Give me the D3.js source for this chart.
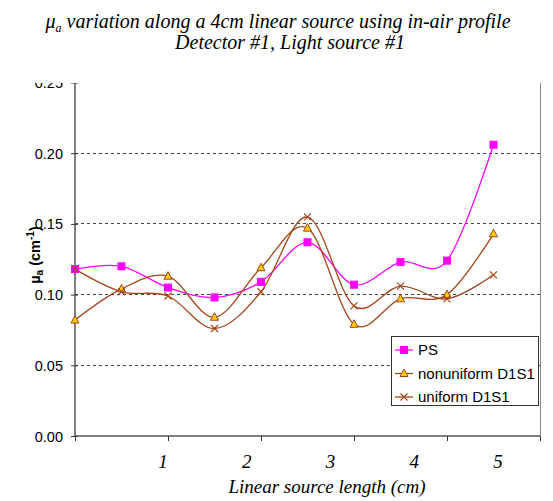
<!DOCTYPE html>
<html>
<head>
<meta charset="utf-8">
<script src="https://cdn.jsdelivr.net/npm/d3@7"></script>
<style>
  html, body { margin: 0; padding: 0; background: #fff; }
  svg { display: block; }
</style>
</head>
<body>
<script>
// Sample positions along the source (10 measurement points)
const positions = [0, 1, 2, 3, 4, 5, 6, 7, 8, 9];
const xTickPositions = [0, 2, 4, 6, 8, 10];
const xLabels = [1, 2, 3, 4, 5];
const yTicks = [0, 0.05, 0.10, 0.15, 0.20, 0.25];
const gridTicks = [0.05, 0.10, 0.15, 0.20];

const seriesNames = ["PS", "nonuniform D1S1", "uniform D1S1"];
const psValues = [0.118, 0.120, 0.105, 0.098, 0.109, 0.137, 0.107, 0.123, 0.124, 0.206];
const nonuniformValues = [0.082, 0.104, 0.113, 0.084, 0.119, 0.147, 0.079, 0.097, 0.100, 0.143];
const uniformValues = [0.118, 0.102, 0.099, 0.076, 0.102, 0.155, 0.092, 0.106, 0.097, 0.114];

const W = 553, H = 501;
const plot = { left: 75, right: 540, top: 83, bottom: 436 };

const x = d3.scaleLinear().domain([0, 10]).range([plot.left, plot.right]);
const y = d3.scaleLinear().domain([0, 0.25]).range([plot.bottom, plot.bottom - 0.25 * 1414]);
// Axis caption numbers sit on their own spacing below the category ticks
const xl = d3.scaleLinear().domain([1, 5]).range([163, 498]);

const svg = d3.select("body").append("svg").attr("width", W).attr("height", H);

const sans = "Arial, 'Liberation Sans', sans-serif";
const serif = "'Times New Roman', 'Liberation Serif', 'DejaVu Serif', serif";
const brown = "#A4461B";
const styles = [
  { name: seriesNames[0], values: psValues, color: "#FF00FF", marker: "square" },
  { name: seriesNames[1], values: nonuniformValues, color: brown, marker: "triangle" },
  { name: seriesNames[2], values: uniformValues, color: brown, marker: "cross" }
];

// Gridlines
svg.append("g").selectAll("line").data(gridTicks).join("line")
  .attr("x1", plot.left).attr("x2", plot.right)
  .attr("y1", d => y(d)).attr("y2", d => y(d))
  .attr("stroke", "#444").attr("stroke-width", 1).attr("stroke-dasharray", "3,3")
  .attr("shape-rendering", "crispEdges");

// Right frame edge
svg.append("line").attr("x1", plot.right).attr("x2", plot.right)
  .attr("y1", 60).attr("y2", plot.bottom)
  .attr("stroke", "#888").attr("stroke-width", 1).attr("shape-rendering", "crispEdges");

// Y axis
const yAxis = d3.axisLeft(y).tickValues(yTicks).tickFormat(d3.format(".2f")).tickSize(0);
const gy = svg.append("g").attr("transform", `translate(${plot.left},0)`).call(yAxis);
gy.select(".domain").attr("stroke", "#555").attr("stroke-width", 1.5).attr("d", `M0,${plot.bottom}V40`);
gy.selectAll(".tick text").attr("x", -12).attr("dy", "0.35em")
  .style("font-family", sans).style("font-size", "14.5px").attr("fill", "#000");
gy.selectAll(".tick").append("line").attr("x1", -4).attr("x2", 3).attr("stroke", "#333");

// X axis
const xAxis = d3.axisBottom(x).tickValues(xTickPositions).tickFormat("").tickSize(5);
const gx = svg.append("g").attr("transform", `translate(0,${plot.bottom})`).call(xAxis);
gx.select(".domain").attr("stroke", "#555").attr("stroke-width", 1.5).attr("d", `M${plot.left},0H${plot.right}`);
gx.selectAll(".tick line").attr("stroke", "#333");

svg.append("g").selectAll("text").data(xLabels).join("text")
  .attr("x", d => xl(d)).attr("y", 468).attr("text-anchor", "middle")
  .style("font-family", serif).style("font-style", "italic")
  .style("font-size", "19px").text(d => d);

// Series lines
const line = d3.line().x((d, i) => x(positions[i])).y(d => y(d)).curve(d3.curveCatmullRom.alpha(0));

function drawMarker(g, type, color, cx, cy) {
  if (type === "square") {
    g.append("rect").attr("x", cx - 3.5).attr("y", cy - 3.5).attr("width", 7).attr("height", 7)
      .attr("fill", "#FF00FF").attr("stroke", "#FF00FF");
  } else if (type === "triangle") {
    g.append("path").attr("d", `M${cx},${cy - 4.5}L${cx + 4},${cy + 3}L${cx - 4},${cy + 3}Z`)
      .attr("fill", "#FFCC00").attr("stroke", color).attr("stroke-width", 1);
  } else {
    g.append("path").attr("d", `M${cx - 3.5},${cy - 3.5}L${cx + 3.5},${cy + 3.5}M${cx - 3.5},${cy + 3.5}L${cx + 3.5},${cy - 3.5}`)
      .attr("stroke", color).attr("stroke-width", 1.2);
  }
}

styles.forEach(s => {
  svg.append("path").datum(s.values).attr("d", line)
    .attr("fill", "none").attr("stroke", s.color).attr("stroke-width", 1.3);
});
styles.forEach(s => {
  const g = svg.append("g");
  s.values.forEach((v, i) => drawMarker(g, s.marker, s.color, x(positions[i]), y(v)));
});

// Top of the chart area is trimmed
svg.append("rect").attr("x", 0).attr("y", 0).attr("width", W).attr("height", plot.top).attr("fill", "#fff");

// Y axis title
const yt = svg.append("text")
  .attr("transform", `translate(40,255) rotate(-90)`).attr("text-anchor", "middle")
  .style("font-family", sans).style("font-weight", "bold").style("font-size", "14.5px");
yt.append("tspan").text("\u00B5");
yt.append("tspan").attr("dy", 3).style("font-size", "10px").text("a");
yt.append("tspan").attr("dy", -3).text(" (cm");
yt.append("tspan").attr("dy", -6).style("font-size", "10px").text("-1");
yt.append("tspan").attr("dy", 6).text(")");

// Title
const t1 = svg.append("text").attr("x", 278).attr("y", 28).attr("text-anchor", "middle")
  .style("font-family", serif).style("font-style", "italic").style("font-size", "20px");
t1.append("tspan").text("\u03BC");
t1.append("tspan").attr("dy", 4).style("font-size", "12px").text("a");
t1.append("tspan").attr("dy", -4).text(" variation along a 4cm linear source using in-air profile");
svg.append("text").attr("x", 290).attr("y", 49).attr("text-anchor", "middle")
  .style("font-family", serif).style("font-style", "italic").style("font-size", "20px")
  .text("Detector #1, Light source #1");

// X axis title
svg.append("text").attr("x", 327).attr("y", 493).attr("text-anchor", "middle")
  .style("font-family", serif).style("font-style", "italic").style("font-size", "19px")
  .text("Linear source length (cm)");

// Legend
const lg = svg.append("g");
lg.append("rect").attr("x", 391.5).attr("y", 336.5).attr("width", 147).attr("height", 69)
  .attr("fill", "#fff").attr("stroke", "#333").attr("stroke-width", 1);
styles.forEach((s, i) => {
  const cy = 350 + i * 23.5;
  lg.append("line").attr("x1", 395).attr("x2", 413).attr("y1", cy).attr("y2", cy)
    .attr("stroke", s.color).attr("stroke-width", 1.3);
  drawMarker(lg, s.marker, s.color, 404, cy);
  lg.append("text").attr("x", 418).attr("y", cy).attr("dy", "0.35em")
    .style("font-family", sans).style("font-size", "15px").text(s.name);
});
</script>
</body>
</html>
